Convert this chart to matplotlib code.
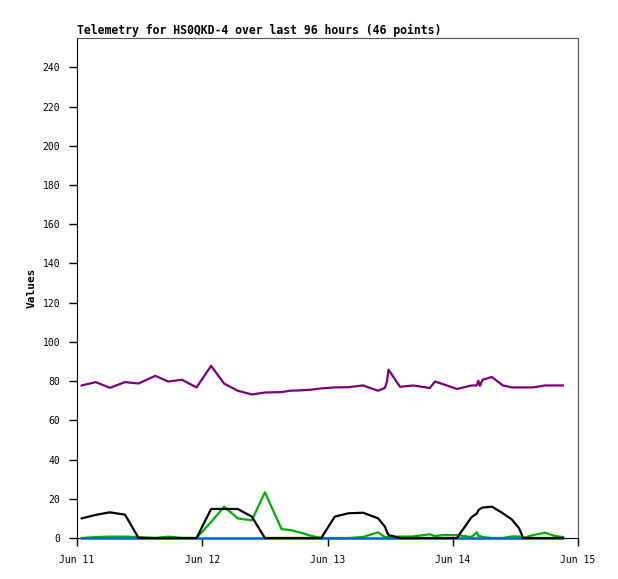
import pandas as pd
import matplotlib
matplotlib.use('Agg')
import matplotlib.pyplot as plt
import matplotlib.dates as mdates

# hours after Jun 11 00:00
hours = [0.9, 3.6, 6.3, 9.2, 11.8, 15.0, 17.5, 20.1, 22.9, 25.7,
         28.2, 30.8, 33.5, 36.0, 39.2, 40.8, 42.9, 44.7, 46.8, 49.4,
         52.0, 54.8, 57.7, 59.0, 59.4, 59.7, 61.9, 64.4, 67.6, 68.6,
         70.2, 72.8, 75.6, 76.6, 76.9, 77.2, 77.7, 79.5, 81.6, 83.3,
         84.7, 85.5, 87.4, 89.7, 91.6, 93.1]

purple = [77.8, 79.5, 76.6, 79.5, 78.8, 82.7, 79.8, 80.7, 76.8, 87.8,
          78.7, 75.1, 73.2, 74.2, 74.4, 75.1, 75.3, 75.6, 76.3, 76.8,
          76.9, 77.8, 75.1, 76.6, 80.0, 85.8, 77.1, 77.8, 76.5, 79.8,
          78.4, 76.0, 77.8, 77.8, 80.2, 77.6, 80.7, 82.1, 77.8, 76.8,
          76.8, 76.8, 76.8, 77.8, 77.8, 77.8]

black = [10.0, 11.8, 13.1, 11.9, 0.0, 0.0, 0.0, 0.0, 0.0, 14.8,
         14.8, 14.8, 10.9, 0.0, 0.0, 0.0, 0.0, 0.0, 0.0, 10.9,
         12.6, 12.9, 10.0, 5.8, 3.0, 1.5, 0.0, 0.0, 0.0, 0.0,
         0.0, 0.0, 10.6, 12.5, 14.0, 14.8, 15.5, 16.0, 12.6, 9.5,
         5.0, 0.0, 0.0, 0.0, 0.0, 0.0]

green = [0.0, 0.5, 0.7, 0.7, 0.5, 0.0, 0.7, 0.0, 0.0, 8.2,
         16.0, 10.0, 9.0, 23.3, 4.5, 4.1, 2.7, 1.2, 0.0, 0.0,
         0.0, 0.5, 2.9, 0.5, 0.5, 0.5, 0.7, 0.8, 1.9, 1.0,
         1.5, 1.5, 0.5, 2.9, 1.0, 1.0, 0.5, 0.0, 0.0, 0.8,
         0.8, 0.0, 1.5, 2.7, 1.0, 0.5]

blue = [0.0] * 46

start = pd.Timestamp('2024-06-11')
times = start + pd.to_timedelta(hours, unit='h')

fig = plt.figure(figsize=(6.18, 5.79), dpi=100)
ax = fig.add_axes([77 / 618, 41 / 579, 501 / 618, 500 / 579])

ax.plot(times, purple, color='#7a007a', lw=1.6, zorder=3)
ax.plot(times, green, color='#00b000', lw=1.6, zorder=3, clip_on=False)
ax.plot(times, blue, color='#0066cc', lw=1.8, zorder=3, clip_on=False)
ax.plot(times, black, color='black', lw=1.6, zorder=3, clip_on=False)

ax.set_xlim(start, start + pd.Timedelta(days=4))
ax.set_ylim(0, 255)
ax.set_yticks(range(0, 241, 20))
ax.xaxis.set_major_locator(mdates.DayLocator())
ax.xaxis.set_major_formatter(mdates.DateFormatter('%b %d'))

mono = 'DejaVu Sans Mono'
ax.tick_params(direction='out', length=6, width=1, labelsize=7, pad=6)
for lab in ax.get_xticklabels() + ax.get_yticklabels():
    lab.set_family(mono)

ax.spines['top'].set_color('#555555')
ax.spines['right'].set_color('#555555')

ax.set_ylabel('Values', family=mono, fontweight='bold', fontsize=8, labelpad=4)
ax.set_title('Telemetry for HS0QKD-4 over last 96 hours (46 points)',
             family=mono, fontweight='bold', fontsize=8.3, loc='left', pad=3)

fig.savefig('out.png', dpi=100)
